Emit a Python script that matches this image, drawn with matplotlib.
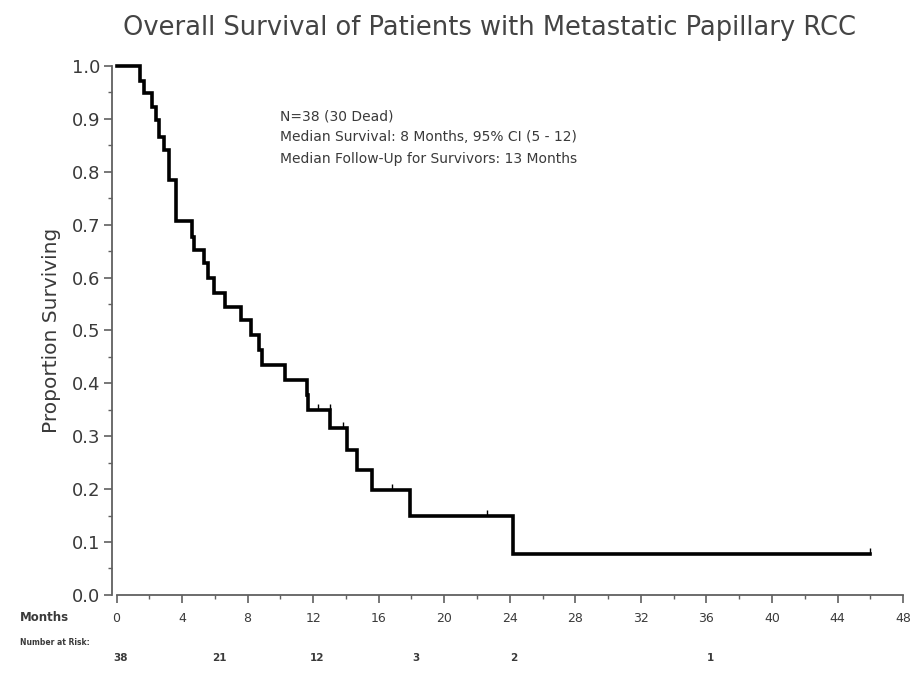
import matplotlib
matplotlib.use("Agg")
import matplotlib.pyplot as plt
import matplotlib.transforms as mtransforms
from matplotlib.ticker import MultipleLocator

# Kaplan-Meier step data (months, survival after the drop)
event_months = [0, 1.46, 1.67, 2.18, 2.38, 2.58, 2.88, 3.19, 3.65, 4.6, 4.7,
                5.32, 5.6, 5.93, 6.6, 7.6, 8.2, 8.7, 8.85, 10.3, 11.6, 11.7,
                13.05, 14.07, 14.67, 15.6, 17.9, 24.2, 46.0]
survival = [1.0, 0.972, 0.948, 0.923, 0.898, 0.866, 0.841, 0.785, 0.706, 0.677, 0.652,
            0.627, 0.599, 0.570, 0.545, 0.520, 0.491, 0.463, 0.435, 0.406, 0.378, 0.350,
            0.315, 0.274, 0.236, 0.198, 0.149, 0.0775, 0.0775]

censor_months = [12.3, 13.05, 13.8, 16.8, 22.6, 46.0]
censor_surv = [0.350, 0.350, 0.315, 0.198, 0.149, 0.0775]

risk_months = [0, 6, 12, 18, 24, 36]
risk_counts = ["38", "21", "12", "3", "2", "1"]

annotations = ["N=38 (30 Dead)",
               "Median Survival: 8 Months, 95% CI (5 - 12)",
               "Median Follow-Up for Survivors: 13 Months"]

text_col = "#3a3a3a"
axis_col = "#606060"

fig = plt.figure(figsize=(9.14, 6.73), dpi=100)
ax = fig.add_axes([0.1221, 0.116, 0.8695, 0.786])

ax.step(event_months, survival, where="post", color="black", lw=2.6,
        solid_joinstyle="miter", clip_on=False, zorder=3)
ax.plot(censor_months, [s + 0.006 for s in censor_surv], linestyle="none",
        marker="|", markersize=5, color="black", mew=1.0, zorder=3)

ax.set_xlim(-0.3, 48.2)
ax.set_ylim(0, 1.0)

for side in ["top", "right"]:
    ax.spines[side].set_visible(False)
for side in ["left", "bottom"]:
    ax.spines[side].set_color(axis_col)
    ax.spines[side].set_linewidth(1.3)
ax.spines["bottom"].set_bounds(0, 48)

ax.xaxis.set_major_locator(MultipleLocator(4))
ax.xaxis.set_minor_locator(MultipleLocator(2))
ax.yaxis.set_major_locator(MultipleLocator(0.1))
ax.yaxis.set_minor_locator(MultipleLocator(0.05))
ax.set_yticklabels([f"{v:.1f}" for v in ax.get_yticks()])

ax.tick_params(axis="both", which="major", direction="out", length=6, width=1.2,
               color=axis_col)
ax.tick_params(axis="both", which="minor", direction="out", length=3, width=1.0,
               color=axis_col)
ax.tick_params(axis="y", labelsize=13, labelcolor=text_col, pad=2)
ax.tick_params(axis="x", labelsize=9, labelcolor=text_col, pad=6)

ax.set_ylabel("Proportion Surviving", fontsize=14.5, color=text_col, labelpad=8)
fig.text(0.536, 0.958, "Overall Survival of Patients with Metastatic Papillary RCC",
         ha="center", va="center", fontsize=18.5, color="#444444")

for i, line in enumerate(annotations):
    ax.text(10.0, 0.905 - i * 0.04, line, fontsize=10, color=text_col, va="center")

# bottom labels
fig.text(0.022, 0.083, "Months", fontsize=8.5, fontweight="bold", color=text_col,
         va="center")
fig.text(0.022, 0.045, "Number at Risk:", fontsize=5.5, fontweight="bold",
         color=text_col, va="center")
trans = mtransforms.blended_transform_factory(ax.transData, fig.transFigure)
for m, c in zip(risk_months, risk_counts):
    ax.text(m + 0.25, 0.022, c, transform=trans, fontsize=7.5, fontweight="bold",
            color=text_col, ha="center", va="center")

fig.savefig("out.png", dpi=100, facecolor="white")
